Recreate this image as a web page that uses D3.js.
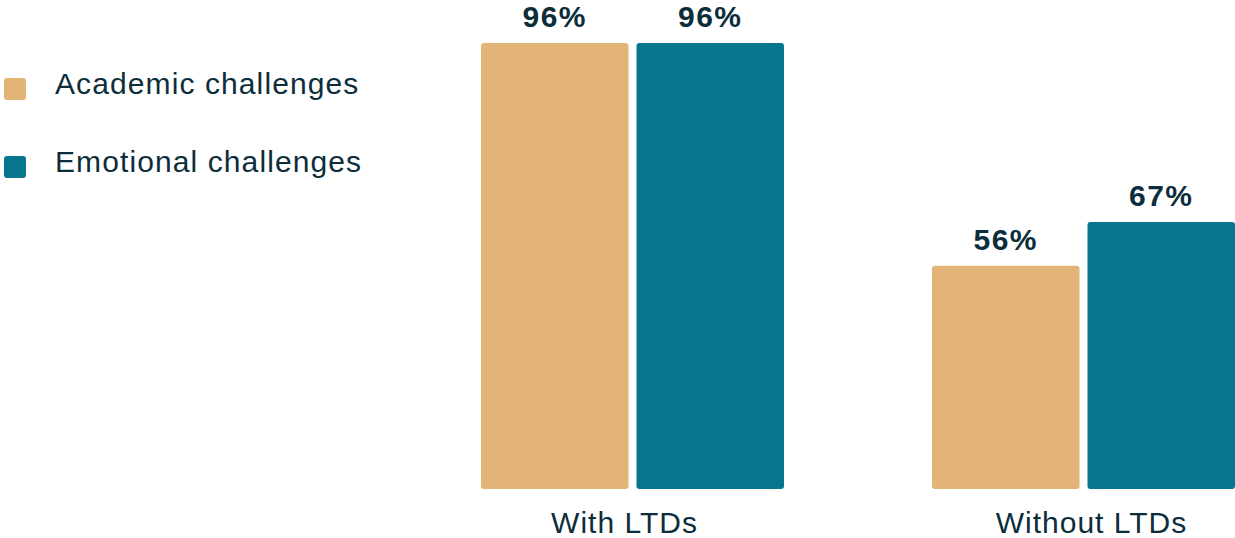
<!DOCTYPE html>
<html>
<head>
<meta charset="utf-8">
<script src="https://cdn.jsdelivr.net/npm/d3@7"></script>
<style>
  body { margin: 0; background: #fff; }
  text { font-family: "Liberation Sans", Arial, Helvetica, sans-serif; fill: #0c2d3a; }
</style>
</head>
<body>
<div id="chart"></div>
<script>
// data
var groups = ["With LTDs", "Without LTDs"];
var series = ["Academic challenges", "Emotional challenges"];
var academic = [96, 56];
var emotional = [96, 67];
var colors = ["#e2b476", "#08758e"];

var width = 1235, height = 538;

var svg = d3.select("#chart").append("svg")
  .attr("width", width)
  .attr("height", height);

// x: one band per group, inner band per series
var x0 = d3.scaleBand()
  .domain(groups)
  .range([481, 1235])
  .paddingInner(148 / 451);

var x1 = d3.scaleBand()
  .domain(series)
  .range([0, x0.bandwidth()])
  .paddingInner(8 / 155.5);

// the original draws the 96% bars taller than the others' scale would give,
// so use a polylinear scale to keep the picture as it is
var y = d3.scaleLinear()
  .domain([0, 67, 96])
  .range([489, 222, 43]);

var rows = [];
groups.forEach(function(g, i){
  rows.push({group: g, series: series[0], value: academic[i], color: colors[0]});
  rows.push({group: g, series: series[1], value: emotional[i], color: colors[1]});
});

//bars
svg.selectAll("rect.bar")
  .data(rows)
  .enter()
  .append("rect")
  .attr("class", "bar")
  .attr("x", function(d){ return x0(d.group) + x1(d.series); })
  .attr("y", function(d){ return y(d.value); })
  .attr("width", x1.bandwidth())
  .attr("height", function(d){ return y(0) - y(d.value); })
  .attr("rx", 3)
  .attr("fill", function(d){ return d.color; });

//value labels
svg.selectAll("text.value")
  .data(rows)
  .enter()
  .append("text")
  .attr("class", "value")
  .attr("x", function(d){ return x0(d.group) + x1(d.series) + x1.bandwidth() / 2; })
  .attr("y", function(d){ return y(d.value) - 16; })
  .attr("text-anchor", "middle")
  .style("font-size", "30px")
  .style("font-weight", "bold")
  .style("letter-spacing", "1.5px")
  .text(function(d){ return d.value + "%"; });

//category labels (the original sits them a little off centre)
var catShift = [-8, 8];
svg.selectAll("text.cat")
  .data(groups)
  .enter()
  .append("text")
  .attr("class", "cat")
  .attr("x", function(d, i){ return x0(d) + x0.bandwidth() / 2 + catShift[i]; })
  .attr("y", 533)
  .attr("text-anchor", "middle")
  .style("font-size", "30px")
  .style("letter-spacing", "1px")
  .text(function(d){ return d; });

//legend
var legend = svg.selectAll("g.legend")
  .data(series)
  .enter()
  .append("g")
  .attr("class", "legend")
  .attr("transform", function(d, i){ return "translate(4," + (78 + i * 78) + ")"; });

legend.append("rect")
  .attr("width", 22)
  .attr("height", 22)
  .attr("rx", 3)
  .attr("fill", function(d, i){ return colors[i]; });

legend.append("text")
  .attr("x", 51)
  .attr("y", 16)
  .style("font-size", "30px")
  .style("letter-spacing", "1.1px")
  .text(function(d){ return d; });
</script>
</body>
</html>
